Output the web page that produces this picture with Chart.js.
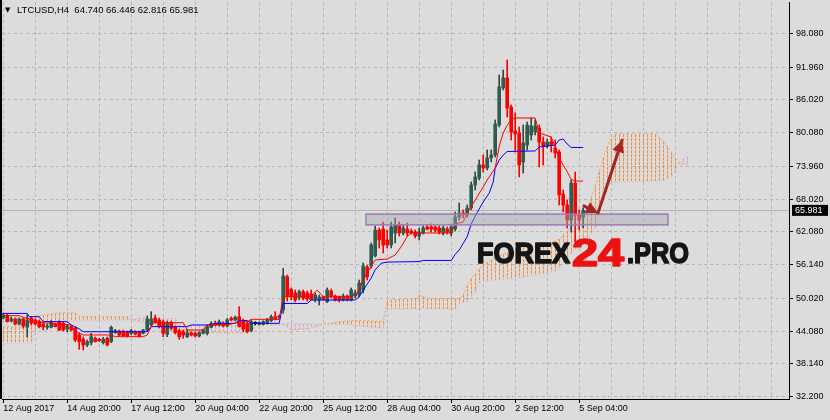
<!DOCTYPE html>
<html>
<head>
<meta charset="utf-8">
<script src="https://cdn.jsdelivr.net/npm/chart.js@4.4.1/dist/chart.umd.min.js"></script>
<style>
  html, body { margin: 0; padding: 0; background: #dcdcdc; }
  canvas { display: block; }
</style>
</head>
<body>
<canvas id="ltcChart" width="830" height="420"></canvas>
<script>
// LTCUSD H4, one bar every 4 hours from 12 Aug 2017
const opens = [
  46.47,46.83,45.92,46.29,45.38,46.29,44.84,46.47,46.11,45.80,
  45.38,44.78,44.78,45.38,45.80,45.51,44.47,44.89,44.60,43.39,
  42.61,41.57,41.99,42.79,42.61,41.99,42.79,42.17,43.80,44.11,
  43.98,43.98,43.69,43.98,43.98,43.69,44.29,45.20,46.47,46.11,
  45.80,43.51,45.62,44.78,44.17,43.98,43.08,43.80,43.69,43.20,
  43.69,43.69,44.78,45.51,45.20,45.51,45.02,46.41,46.11,46.70,
  45.98,45.51,44.17,45.51,45.33,45.33,45.51,45.98,46.70,46.60,
  47.92,53.96,51.67,51.00,50.22,51.24,51.00,50.82,49.91,49.73,
  50.28,49.42,51.36,50.46,50.28,49.73,50.46,49.73,50.46,50.64,
  51.54,55.72,55.90,57.71,62.42,62.60,60.61,59.70,61.88,63.33,
  61.88,62.60,62.24,62.06,61.34,61.88,62.97,62.97,62.97,62.78,
  61.88,62.60,61.88,62.60,64.78,65.50,65.14,66.41,70.58,71.85,
  74.21,73.66,75.48,76.02,81.46,88.17,89.98,84.72,80.38,80.02,
  74.75,77.83,79.65,80.20,80.91,78.37,77.65,78.37,77.29,76.56,
  68.95,66.95,64.24,70.94,65.32,64.740
];
const highs = [
  47.37,47.19,46.65,46.47,46.47,46.47,47.01,46.70,46.29,46.11,
  45.74,45.38,45.98,45.56,45.98,45.74,45.20,45.20,44.84,43.75,
  43.02,42.48,43.69,43.02,42.79,42.97,43.02,45.02,44.42,44.29,
  44.29,44.11,44.42,44.17,44.11,44.42,46.83,47.61,47.01,46.47,
  46.11,45.92,45.92,45.02,44.47,44.29,44.42,43.98,43.93,43.98,
  44.47,45.20,45.80,45.92,46.11,45.80,46.41,46.70,46.83,48.52,
  46.29,45.80,46.11,45.80,45.80,45.98,46.41,47.01,47.61,47.01,
  55.48,54.26,51.91,51.54,51.54,51.54,51.36,51.54,51.00,50.64,
  50.46,51.91,51.73,50.64,50.46,50.82,50.64,51.91,51.54,53.36,
  56.44,56.08,60.07,63.15,62.78,63.87,62.42,63.87,64.60,63.87,
  63.33,63.69,62.60,62.42,62.78,63.15,63.33,63.51,63.15,63.15,
  63.15,62.97,63.51,65.68,67.32,66.05,66.95,71.13,72.94,75.11,
  76.02,76.93,76.93,82.37,90.52,91.43,93.24,85.08,83.65,81.09,
  81.46,82.00,82.73,82.37,81.46,79.29,78.92,79.29,78.74,76.93,
  69.67,67.86,71.49,72.94,66.05,66.446
];
const lows = [
  46.29,45.74,45.74,45.20,45.20,44.66,43.02,45.20,45.20,44.66,
  44.29,44.42,44.66,44.84,44.17,44.11,43.98,44.11,42.17,40.79,
  40.67,41.27,41.57,42.12,42.17,41.75,41.39,41.99,43.69,43.20,
  43.08,43.02,43.39,43.39,43.02,43.57,44.11,45.02,45.56,44.66,
  43.08,43.08,44.29,43.57,42.61,42.79,42.90,43.20,43.02,43.02,
  43.57,43.39,44.66,45.02,45.02,44.84,44.84,45.92,45.92,44.84,
  43.98,43.75,43.98,45.20,45.20,45.20,45.38,45.80,46.11,46.29,
  47.32,49.55,49.73,49.37,49.73,49.73,49.55,49.73,49.37,48.83,
  49.73,49.24,50.09,49.55,49.37,49.55,49.55,49.55,50.09,50.28,
  51.00,53.36,55.53,57.53,59.16,58.25,59.16,59.16,60.07,61.34,
  61.52,61.34,61.70,60.97,60.61,61.70,62.42,62.06,62.06,61.70,
  61.52,61.70,61.34,62.24,64.24,64.60,64.78,66.05,69.67,71.49,
  72.94,73.30,74.75,75.66,81.09,87.80,82.91,78.74,76.56,72.04,
  72.75,76.93,78.74,79.65,73.84,74.21,77.29,76.56,75.48,66.95,
  65.68,62.78,62.06,60.25,62.42,62.816
];
const closes = [
  47.01,45.80,46.29,45.38,46.29,45.02,46.11,45.56,45.38,44.89,
  44.84,45.02,45.80,44.89,44.29,44.29,45.02,44.29,42.48,42.17,
  41.57,42.17,43.08,42.17,42.35,42.61,41.57,44.78,44.17,43.39,
  43.26,43.20,44.17,43.57,43.20,44.29,46.29,46.29,45.74,44.89,
  43.69,45.62,44.60,43.80,43.08,43.39,43.80,43.39,43.20,43.80,
  44.29,44.89,45.51,45.20,45.80,45.02,46.11,46.11,46.60,44.89,
  44.42,43.98,45.80,45.51,45.62,45.80,46.11,46.70,46.23,46.70,
  54.08,50.33,50.33,49.73,51.24,50.04,49.91,49.78,50.64,50.28,
  49.82,51.54,50.46,49.73,49.73,50.46,49.73,51.54,51.00,52.81,
  55.90,53.90,59.70,62.42,60.61,59.70,59.70,62.97,63.33,61.88,
  62.78,61.88,61.88,61.34,62.06,62.78,62.60,62.60,62.42,62.06,
  62.78,62.06,62.97,64.78,65.50,65.14,66.41,70.58,72.03,74.21,
  73.66,75.48,76.02,81.64,88.35,89.98,84.54,80.20,79.84,74.21,
  78.19,81.46,81.28,81.28,78.37,77.65,78.37,77.83,76.38,68.77,
  66.95,64.24,70.94,65.14,64.24,65.981
];

// Ichimoku lines, read as [bar, price] corners
const tenkanPts = [
  [0,46.89],[4,46.89],[5,46.6],[10,45.62],[17,45.2],[18,44.11],[20,43.39],[27,43.39],[28,43.08],[35,43.08],
  [36,43.39],[37.5,45.62],[45,45.62],[46,44.29],[50,44.29],[51,45.2],[56,45.2],[58,45.56],[61,45.8],[62,46.23],
  [69,46.23],[70,50.33],[77,50.33],[78.5,51.54],[80,50.33],[87,50.33],[88.5,51.0],[90,53.36],[91,54.63],[93,56.98],
  [96,57.16],[98,57.89],[99.5,59.4],[101,61.2],[102,61.88],[112,61.88],[113,63.51],[115,63.87],[116,65.5],[118,67.86],
  [120,70.22],[121,71.49],[123,73.66],[124,77.6],[125,80.0],[126,81.4],[127,82.37],[128,82.73],[133,82.73],[134,80.0],
  [137,79.29],[138,77.5],[139,75.5],[140,74.2],[141,73.0],[142,71.6],[143,71.3],[145,71.3]
];
const kijunPts = [
  [0,47.3],[6,47.3],[6.5,46.7],[9,46.7],[10,45.8],[16,45.8],[17,45.2],[19,44.5],[20,43.98],[36,43.98],
  [37,44.9],[46,44.9],[47,45.2],[52,45.2],[53,45.5],[58,45.5],[59,46.0],[61,46.0],[62,45.5],[69,45.5],
  [70,49.1],[76,49.1],[77,49.73],[88,49.73],[89,50.33],[90,51.54],[91,52.6],[92,53.7],[93,55.2],[94.5,56.4],
  [96,56.6],[104,56.7],[105,56.9],[112,56.9],[113,58.0],[114,58.8],[115,60.0],[116,61.2],[117,63.5],[118.5,65.6],
  [120,67.5],[121.5,69.1],[122.5,71.1],[123,73.6],[124,75.1],[125,76.0],[126,76.65],[133,76.75],[134,77.47],[138,77.83],
  [139,78.74],[140,78.92],[141,78.0],[142,77.38],[145,77.38]
];
const spanAPts = [
  [0,44.84],[7,44.84],[8,46.8],[14,47.4],[18,47.4],[19,46.7],[31,46.7],[33,46.0],[35,45.7],[46,44.3],
  [51,43.8],[60,43.8],[61,44.6],[62,43.7],[63,45.25],[70,45.25],[72,44.35],[76,44.5],[80,45.3],[85,45.9],
  [88,46.0],[95,45.85],[96,49.7],[103,50.0],[104,50.6],[106,50.0],[114,50.0],[115,50.6],[116,52.4],[117,53.6],
  [120,56.2],[125,58.0],[130,59.3],[135,59.45],[139,60.75],[140,61.5],[142,62.9],[144,64.5],[146,66.0],[148,70.5],
  [150,75.5],[151.5,78.5],[153,79.8],[163,79.8],[165,78.5],[167,76.5],[169,74.5],[171,74.2]
];
const spanBPts = [
  [0,41.9],[7,41.9],[9,45.8],[31,46.1],[34,46.4],[43,46.4],[44,45.2],[59,45.2],[60,45.5],[70,45.5],
  [85,45.3],[95,44.6],[96,48.1],[113,48.1],[114,49.0],[116,49.5],[118,51.3],[119,52.9],[122,53.3],[130,53.8],
  [138,55.0],[139,55.6],[145,60.7],[147,61.5],[148,62.9],[149,65.6],[150,69.7],[151,70.1],[152,71.0],[165,71.4],
  [167,72.1],[168,73.3],[169,74.4],[170,75.4],[171,75.7]
];

const xTickLabels = ['12 Aug 2017','14 Aug 20:00','17 Aug 12:00','20 Aug 04:00','22 Aug 20:00',
  '25 Aug 12:00','28 Aug 04:00','30 Aug 20:00','2 Sep 12:00','5 Sep 04:00'];
const yTickValues = [32.2,38.14,44.08,50.02,56.14,62.08,68.02,73.96,80.08,86.02,91.96,98.08];
const lastPrice = 65.981;
const headerText = 'LTCUSD,H4  64.740 66.446 62.816 65.981';
const cloudBars = 172; // 146 candles + 26 bars the cloud runs ahead

// drawn objects on the chart (bar index / price)
const zoneBox = { x0: 90.7, x1: 166.2, lo: 63.35, hi: 65.30 };
const arrowPts = [[145.2, 66.8], [148.7, 65.5], [154.7, 78.7]];

const BULL = '#2f5c4c', BULL_WICK = '#34483f', BEAR = '#ff0000';
const CLOUD_UP = '#f08c3c', CLOUD_DOWN = '#d4a4d4';

function candleColor(i, bull, bear) {
  if (closes[i] > opens[i]) return bull;
  if (closes[i] < opens[i]) return bear;
  return '#000000';
}

const wickData = highs.map((h, i) => ({ x: i, y: [lows[i], h] }));
const bodyData = opens.map((o, i) => ({ x: i, y: [Math.min(o, closes[i]), Math.max(o, closes[i])] }));
const toXY = pts => pts.map(p => ({ x: p[0], y: p[1] }));

function arrowHead(ctx, x1, y1, x2, y2, len, half) {
  const a = Math.atan2(y2 - y1, x2 - x1);
  ctx.beginPath();
  ctx.moveTo(x2, y2);
  ctx.lineTo(x2 - len * Math.cos(a) + half * Math.sin(a), y2 - len * Math.sin(a) - half * Math.cos(a));
  ctx.lineTo(x2 - len * Math.cos(a) - half * Math.sin(a), y2 - len * Math.sin(a) + half * Math.cos(a));
  ctx.closePath();
  ctx.fill();
}

function fitText(ctx, text, x, base, width, font, color) {
  ctx.save();
  ctx.font = font;
  const w = ctx.measureText(text).width;
  ctx.translate(x, base);
  ctx.scale(width / w, 1);
  ctx.fillStyle = color;
  ctx.strokeStyle = color;
  ctx.lineWidth = 1.6;
  ctx.lineJoin = 'round';
  ctx.textBaseline = 'alphabetic';
  ctx.fillText(text, 0, 0);
  ctx.strokeText(text, 0, 0);
  ctx.restore();
}

const chartDecor = {
  id: 'chartDecor',
  beforeDraw(chart) {
    const ctx = chart.ctx;
    ctx.save();
    ctx.fillStyle = '#dcdcdc';
    ctx.fillRect(0, 0, chart.width, chart.height);
    ctx.restore();
  },
  beforeDatasetsDraw(chart) {
    const { ctx, chartArea: a, scales: { x, y } } = chart;
    const py = Math.round(y.getPixelForValue(lastPrice)) + 0.5;
    ctx.save();
    ctx.strokeStyle = '#b4b4b4';
    ctx.lineWidth = 1;
    ctx.beginPath();
    ctx.moveTo(a.left, py);
    ctx.lineTo(a.right, py);
    ctx.stroke();

    // cloud hatching: one dotted column per bar between the two span lines
    const lineA = chart.getDatasetMeta(0).dataset;
    const lineB = chart.getDatasetMeta(1).dataset;
    ctx.beginPath();
    ctx.rect(a.left, a.top, a.right - a.left, a.bottom - a.top);
    ctx.clip();
    ctx.lineWidth = 1;
    ctx.setLineDash([3, 1]);
    for (let i = 0; i < cloudBars; i++) {
      const px = x.getPixelForValue(i);
      const pa = lineA.interpolate({ x: px }, 'x');
      const pb = lineB.interpolate({ x: px }, 'x');
      if (!pa || !pb) continue;
      const cx = Math.round(px) + 0.5;
      ctx.strokeStyle = pa.y <= pb.y ? CLOUD_UP : CLOUD_DOWN;
      ctx.beginPath();
      ctx.moveTo(cx, Math.min(pa.y, pb.y));
      ctx.lineTo(cx, Math.max(pa.y, pb.y));
      ctx.stroke();
    }
    ctx.restore();
  },
  afterDatasetsDraw(chart) {
    const { ctx, chartArea: a, scales: { x, y } } = chart;
    ctx.save();
    ctx.beginPath();
    ctx.rect(a.left, a.top, a.right - a.left, a.bottom - a.top);
    ctx.clip();

    // support zone
    const bx0 = x.getPixelForValue(zoneBox.x0), bx1 = x.getPixelForValue(zoneBox.x1);
    const by0 = y.getPixelForValue(zoneBox.hi), by1 = y.getPixelForValue(zoneBox.lo);
    ctx.fillStyle = 'rgba(165,165,175,0.45)';
    ctx.fillRect(bx0, by0, bx1 - bx0, by1 - by0);
    ctx.strokeStyle = '#9a7cb6';
    ctx.lineWidth = 1.5;
    ctx.strokeRect(bx0, by0, bx1 - bx0, by1 - by0);

    // forecast arrows
    const p = arrowPts.map(q => [x.getPixelForValue(q[0]), y.getPixelForValue(q[1])]);
    ctx.strokeStyle = '#a52424';
    ctx.fillStyle = '#a52424';
    ctx.lineWidth = 3;
    ctx.lineCap = 'round';
    ctx.beginPath();
    ctx.moveTo(p[0][0], p[0][1]);
    ctx.lineTo(p[1][0] - 4, p[1][1] - 1.5);
    ctx.stroke();
    arrowHead(ctx, p[0][0], p[0][1], p[1][0], p[1][1], 12, 6);
    ctx.beginPath();
    ctx.moveTo(p[1][0], p[1][1]);
    ctx.lineTo(p[2][0], p[2][1]);
    ctx.stroke();
    arrowHead(ctx, p[1][0], p[1][1], p[2][0], p[2][1], 12, 6);

    // watermark
    fitText(ctx, 'FOREX', 477, 263, 93, 'bold 30px "Liberation Sans"', '#151515');
    fitText(ctx, '24', 572, 266, 52, 'bold 38px "Liberation Sans"', '#ee1111');
    fitText(ctx, '.PRO', 627, 263, 62, 'bold 30px "Liberation Sans"', '#151515');
    ctx.restore();

    // symbol header
    ctx.save();
    ctx.fillStyle = '#000';
    ctx.font = '7px "DejaVu Sans"';
    ctx.textBaseline = 'middle';
    ctx.fillText('\u25BC', a.left + 3, a.top + 8);
    ctx.font = '9.5px "Liberation Sans"';
    ctx.fillText(headerText, a.left + 15, a.top + 8);
    ctx.restore();
  },
  afterDraw(chart) {
    const { ctx, chartArea: a, scales: { y } } = chart;
    ctx.save();
    ctx.fillStyle = '#000';
    ctx.fillRect(0, 0, a.left, a.bottom);
    const py = y.getPixelForValue(lastPrice);
    ctx.fillRect(a.right + 3, py - 5.5, 36, 11);
    ctx.fillStyle = '#fff';
    ctx.font = '9px "Liberation Sans"';
    ctx.textBaseline = 'middle';
    ctx.fillText(lastPrice.toFixed(3), a.right + 6, py);
    ctx.restore();
  }
};

const gridColor = '#b6b6b6';

new Chart(document.getElementById('ltcChart'), {
  type: 'bar',
  data: {
    datasets: [
      {
        type: 'line', label: 'Senkou A', data: toXY(spanAPts),
        borderColor: '#f4a460', borderWidth: 1, borderDash: [2, 2], pointRadius: 0,
        fill: false, order: 50
      },
      {
        type: 'line', label: 'Senkou B', data: toXY(spanBPts),
        borderColor: '#d8bfd8', borderWidth: 1, borderDash: [2, 2], pointRadius: 0,
        fill: false, order: 50
      },
      {
        label: 'wicks', data: wickData, grouped: false, barThickness: 1,
        backgroundColor: highs.map((h, i) => candleColor(i, BULL_WICK, BEAR)), order: 40
      },
      {
        label: 'bodies', data: bodyData, grouped: false, barThickness: 3, minBarLength: 1,
        backgroundColor: highs.map((h, i) => candleColor(i, BULL, BEAR)), order: 30
      },
      {
        type: 'line', label: 'Kijun-sen', data: toXY(kijunPts),
        borderColor: '#0000ff', borderWidth: 1, pointRadius: 0, fill: false, order: 10
      },
      {
        type: 'line', label: 'Tenkan-sen', data: toXY(tenkanPts),
        borderColor: '#ff0000', borderWidth: 1, pointRadius: 0, fill: false, order: 5
      }
    ]
  },
  options: {
    responsive: false,
    animation: false,
    events: [],
    devicePixelRatio: 1,
    layout: { padding: { top: 2, left: 2, right: 0, bottom: 0 } },
    plugins: { legend: { display: false }, tooltip: { enabled: false } },
    scales: {
      x: {
        type: 'linear', min: -0.3, max: 196.45, offset: false,
        grid: {
          offset: false, color: gridColor, lineWidth: 1, tickLength: 4,
          tickColor: c => (c.tick && c.tick.value % 16 === 0 && c.tick.value / 16 < xTickLabels.length) ? '#000' : 'rgba(0,0,0,0)'
        },
        border: { display: true, color: '#000', width: 1, dash: [3, 3] },
        ticks: {
          align: 'start', padding: 0, maxRotation: 0, autoSkip: false, color: '#000',
          font: { family: 'Liberation Sans', size: 9 },
          callback: v => (v % 16 === 0 && v / 16 < xTickLabels.length) ? xTickLabels[v / 16] : ''
        },
        afterBuildTicks: s => {
          const t = [];
          for (let v = 0; v <= 196; v += 8) t.push({ value: v });
          s.ticks = t;
        },
        afterFit: s => { s.height = 21; s.paddingLeft = 0; s.paddingRight = 0; }
      },
      y: {
        position: 'right', min: 31.783, max: 103.754,
        grid: { color: gridColor, lineWidth: 1, tickLength: 4, tickColor: '#000' },
        border: { display: true, color: '#000', width: 1, dash: [3, 3] },
        ticks: {
          padding: 3, color: '#000', font: { family: 'Liberation Sans', size: 9 },
          callback: v => v.toFixed(3)
        },
        afterBuildTicks: s => { s.ticks = yTickValues.map(v => ({ value: v })); },
        afterFit: s => { s.width = 41; s.paddingTop = 0; s.paddingBottom = 0; }
      }
    }
  },
  plugins: [chartDecor]
});
</script>
</body>
</html>
